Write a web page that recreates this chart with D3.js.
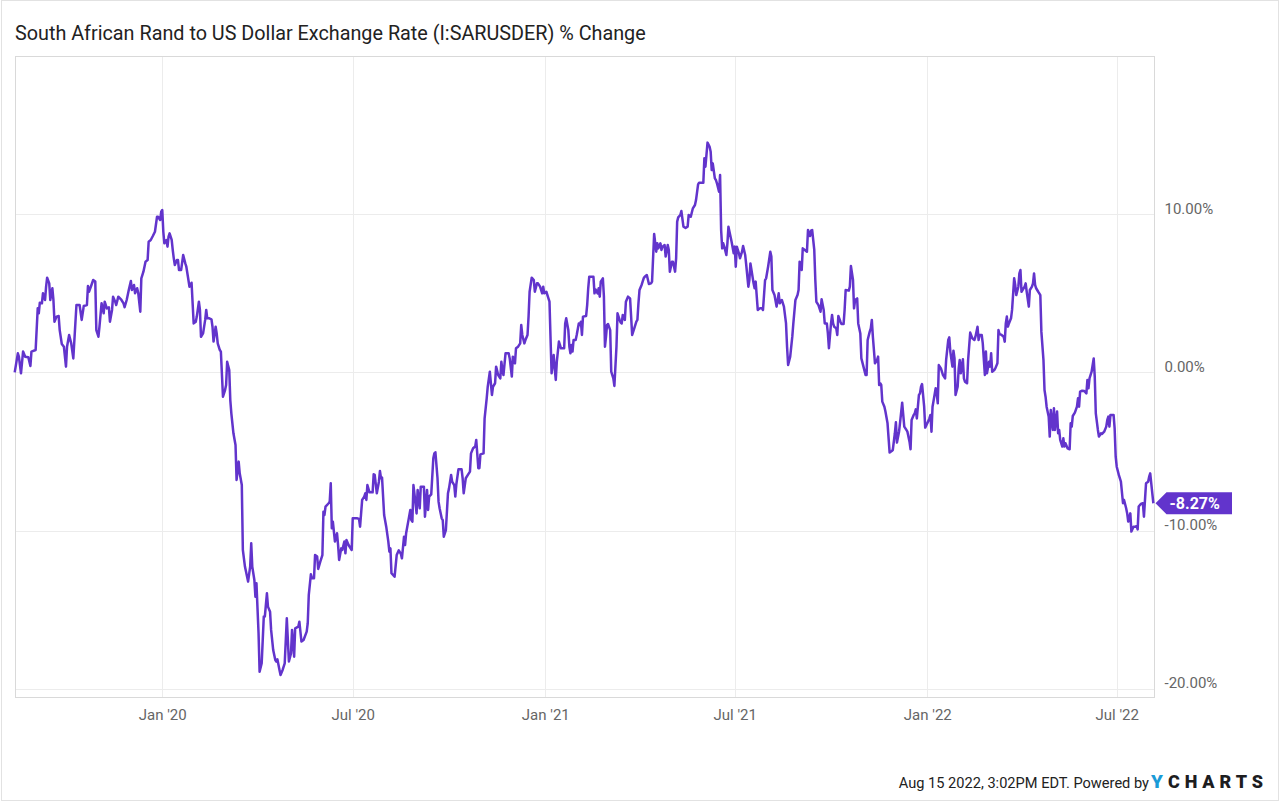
<!DOCTYPE html>
<html>
<head>
<meta charset="utf-8">
<title>South African Rand to US Dollar Exchange Rate % Change</title>
<script src="https://cdn.jsdelivr.net/npm/d3@7"></script>
<style>
  html, body { margin: 0; padding: 0; background: #fff; }
  svg { display: block; font-family: Roboto, "Open Sans", sans-serif; }
</style>
</head>
<body>
<svg id="chart" width="1280" height="802"></svg>
<script>
var title = "South African Rand to US Dollar Exchange Rate (I:SARUSDER) % Change";
var footerText = "Aug 15 2022, 3:02PM EDT. Powered by";

var dates = [
  "2019-08-13","2019-08-16","2019-08-17","2019-08-19","2019-08-21","2019-08-23","2019-08-26","2019-08-28","2019-08-29","2019-09-02",
  "2019-09-04","2019-09-05","2019-09-06","2019-09-08","2019-09-09","2019-09-11","2019-09-12","2019-09-13","2019-09-15","2019-09-16",
  "2019-09-18","2019-09-19","2019-09-20","2019-09-22","2019-09-24","2019-09-25","2019-09-27","2019-09-29","2019-10-01","2019-10-02",
  "2019-10-04","2019-10-06","2019-10-08","2019-10-11","2019-10-14","2019-10-16","2019-10-18","2019-10-21","2019-10-22","2019-10-23",
  "2019-10-25","2019-10-27","2019-10-29","2019-10-30","2019-11-01","2019-11-02","2019-11-04","2019-11-06","2019-11-07","2019-11-09",
  "2019-11-11","2019-11-12","2019-11-14","2019-11-15","2019-11-17","2019-11-18","2019-11-20","2019-11-23","2019-11-25","2019-11-26",
  "2019-11-28","2019-11-30","2019-12-02","2019-12-03","2019-12-05","2019-12-06","2019-12-08","2019-12-09","2019-12-11","2019-12-12",
  "2019-12-14","2019-12-16","2019-12-18","2019-12-19","2019-12-21","2019-12-23","2019-12-25","2019-12-27","2019-12-28","2019-12-30",
  "2019-12-31","2020-01-01","2020-01-02","2020-01-03","2020-01-05","2020-01-06","2020-01-07","2020-01-08","2020-01-10","2020-01-11",
  "2020-01-12","2020-01-13","2020-01-15","2020-01-16","2020-01-17","2020-01-19","2020-01-21","2020-01-23","2020-01-24","2020-01-26",
  "2020-01-27","2020-01-29","2020-01-31","2020-02-02","2020-02-03","2020-02-05","2020-02-06","2020-02-07","2020-02-09","2020-02-11",
  "2020-02-12","2020-02-13","2020-02-15","2020-02-17","2020-02-18","2020-02-19","2020-02-21","2020-02-22","2020-02-23","2020-02-25",
  "2020-02-26","2020-02-28","2020-03-01","2020-03-02","2020-03-03","2020-03-05","2020-03-06","2020-03-07","2020-03-09","2020-03-11",
  "2020-03-12","2020-03-14","2020-03-15","2020-03-17","2020-03-18","2020-03-20","2020-03-23","2020-03-25","2020-03-26","2020-03-27",
  "2020-03-29","2020-03-30","2020-03-31","2020-04-02","2020-04-03","2020-04-05","2020-04-07","2020-04-08","2020-04-10","2020-04-11",
  "2020-04-13","2020-04-14","2020-04-16","2020-04-18","2020-04-19","2020-04-20","2020-04-22","2020-04-23","2020-04-25","2020-04-27",
  "2020-04-29","2020-05-01","2020-05-03","2020-05-04","2020-05-06","2020-05-07","2020-05-10","2020-05-11","2020-05-13","2020-05-15",
  "2020-05-18","2020-05-19","2020-05-20","2020-05-22","2020-05-23","2020-05-25","2020-05-26","2020-05-28","2020-05-29","2020-05-31",
  "2020-06-02","2020-06-03","2020-06-04","2020-06-05","2020-06-08","2020-06-09","2020-06-10","2020-06-11","2020-06-12","2020-06-14",
  "2020-06-16","2020-06-17","2020-06-18","2020-06-20","2020-06-21","2020-06-23","2020-06-24","2020-06-25","2020-06-27","2020-06-30",
  "2020-07-01","2020-07-05","2020-07-07","2020-07-08","2020-07-10","2020-07-12","2020-07-13","2020-07-14","2020-07-15","2020-07-17",
  "2020-07-20","2020-07-21","2020-07-22","2020-07-24","2020-07-26","2020-07-27","2020-07-28","2020-07-29","2020-07-31","2020-08-02",
  "2020-08-04","2020-08-05","2020-08-06","2020-08-07","2020-08-10","2020-08-12","2020-08-14","2020-08-16","2020-08-17","2020-08-19",
  "2020-08-20","2020-08-21","2020-08-23","2020-08-25","2020-08-26","2020-08-27","2020-08-28","2020-08-30","2020-08-31","2020-09-01",
  "2020-09-03","2020-09-04","2020-09-05","2020-09-07","2020-09-08","2020-09-10","2020-09-11","2020-09-12","2020-09-14","2020-09-16",
  "2020-09-17","2020-09-18","2020-09-20","2020-09-21","2020-09-22","2020-09-24","2020-09-25","2020-09-26","2020-09-28","2020-09-30",
  "2020-10-01","2020-10-03","2020-10-04","2020-10-06","2020-10-07","2020-10-08","2020-10-10","2020-10-13","2020-10-14","2020-10-15",
  "2020-10-17","2020-10-19","2020-10-21","2020-10-22","2020-10-24","2020-10-26","2020-10-27","2020-10-29","2020-10-30","2020-10-31",
  "2020-11-03","2020-11-04","2020-11-06","2020-11-07","2020-11-09","2020-11-11","2020-11-12","2020-11-14","2020-11-15","2020-11-17",
  "2020-11-19","2020-11-20","2020-11-21","2020-11-22","2020-11-24","2020-11-27","2020-11-28","2020-11-30","2020-12-01","2020-12-03",
  "2020-12-04","2020-12-06","2020-12-08","2020-12-09","2020-12-10","2020-12-12","2020-12-13","2020-12-15","2020-12-16","2020-12-17",
  "2020-12-19","2020-12-21","2020-12-22","2020-12-24","2020-12-25","2020-12-27","2020-12-29","2020-12-30","2020-12-31","2021-01-02",
  "2021-01-04","2021-01-05","2021-01-06","2021-01-07","2021-01-09","2021-01-10","2021-01-11","2021-01-12","2021-01-14","2021-01-16",
  "2021-01-19","2021-01-20","2021-01-21","2021-01-23","2021-01-24","2021-01-25","2021-01-26","2021-01-27","2021-01-28","2021-01-30",
  "2021-01-31","2021-02-02","2021-02-03","2021-02-04","2021-02-05","2021-02-06","2021-02-09","2021-02-10","2021-02-11","2021-02-12",
  "2021-02-14","2021-02-16","2021-02-17","2021-02-18","2021-02-20","2021-02-21","2021-02-22","2021-02-23","2021-02-25","2021-02-26",
  "2021-02-27","2021-02-28","2021-03-01","2021-03-02","2021-03-04","2021-03-05","2021-03-07","2021-03-08","2021-03-10","2021-03-11",
  "2021-03-13","2021-03-14","2021-03-15","2021-03-16","2021-03-18","2021-03-19","2021-03-21","2021-03-23","2021-03-24","2021-03-25",
  "2021-03-27","2021-03-29","2021-03-30","2021-03-31","2021-04-01","2021-04-03","2021-04-05","2021-04-06","2021-04-08","2021-04-10",
  "2021-04-12","2021-04-13","2021-04-15","2021-04-17","2021-04-18","2021-04-19","2021-04-21","2021-04-22","2021-04-23","2021-04-25",
  "2021-04-26","2021-04-28","2021-04-29","2021-04-30","2021-05-02","2021-05-03","2021-05-05","2021-05-06","2021-05-07","2021-05-08",
  "2021-05-10","2021-05-11","2021-05-13","2021-05-15","2021-05-17","2021-05-18","2021-05-20","2021-05-22","2021-05-24","2021-05-25",
  "2021-05-27","2021-05-28","2021-05-30","2021-06-01","2021-06-02","2021-06-03","2021-06-05","2021-06-07","2021-06-08","2021-06-09",
  "2021-06-10","2021-06-12","2021-06-13","2021-06-14","2021-06-16","2021-06-17","2021-06-18","2021-06-19","2021-06-20","2021-06-21",
  "2021-06-23","2021-06-24","2021-06-25","2021-06-26","2021-06-28","2021-06-30","2021-07-01","2021-07-02","2021-07-03","2021-07-05",
  "2021-07-06","2021-07-08","2021-07-09","2021-07-11","2021-07-12","2021-07-14","2021-07-15","2021-07-16","2021-07-17","2021-07-19",
  "2021-07-20","2021-07-21","2021-07-23","2021-07-25","2021-07-27","2021-07-28","2021-07-30","2021-07-31","2021-08-02","2021-08-04",
  "2021-08-05","2021-08-06","2021-08-08","2021-08-10","2021-08-12","2021-08-13","2021-08-15","2021-08-17","2021-08-19","2021-08-20",
  "2021-08-21","2021-08-23","2021-08-25","2021-08-26","2021-08-28","2021-08-30","2021-08-31","2021-09-01","2021-09-03","2021-09-04",
  "2021-09-06","2021-09-08","2021-09-09","2021-09-11","2021-09-12","2021-09-13","2021-09-15","2021-09-16","2021-09-17","2021-09-19",
  "2021-09-21","2021-09-22","2021-09-24","2021-09-25","2021-09-27","2021-09-28","2021-09-29","2021-10-01","2021-10-02","2021-10-03",
  "2021-10-04","2021-10-06","2021-10-07","2021-10-08","2021-10-10","2021-10-11","2021-10-13","2021-10-14","2021-10-15","2021-10-18",
  "2021-10-19","2021-10-20","2021-10-22","2021-10-23","2021-10-24","2021-10-26","2021-10-27","2021-10-29","2021-10-30","2021-11-01",
  "2021-11-03","2021-11-04","2021-11-05","2021-11-07","2021-11-08","2021-11-09","2021-11-10","2021-11-12","2021-11-14","2021-11-15",
  "2021-11-16","2021-11-17","2021-11-18","2021-11-19","2021-11-21","2021-11-22","2021-11-24","2021-11-26","2021-11-28","2021-11-29",
  "2021-12-01","2021-12-02","2021-12-03","2021-12-05","2021-12-06","2021-12-08","2021-12-10","2021-12-12","2021-12-13","2021-12-15",
  "2021-12-16","2021-12-17","2021-12-19","2021-12-20","2021-12-21","2021-12-22","2021-12-24","2021-12-25","2021-12-26","2021-12-27",
  "2021-12-29","2021-12-30","2022-01-01","2022-01-03","2022-01-04","2022-01-05","2022-01-06","2022-01-07","2022-01-09","2022-01-10",
  "2022-01-11","2022-01-12","2022-01-14","2022-01-16","2022-01-18","2022-01-19","2022-01-21","2022-01-22","2022-01-23","2022-01-25",
  "2022-01-26","2022-01-27","2022-01-28","2022-01-30","2022-01-31","2022-02-01","2022-02-02","2022-02-04","2022-02-05","2022-02-06",
  "2022-02-08","2022-02-09","2022-02-11","2022-02-13","2022-02-15","2022-02-16","2022-02-18","2022-02-19","2022-02-20","2022-02-22",
  "2022-02-23","2022-02-25","2022-02-26","2022-02-27","2022-03-01","2022-03-02","2022-03-03","2022-03-04","2022-03-06","2022-03-07",
  "2022-03-09","2022-03-10","2022-03-11","2022-03-13","2022-03-15","2022-03-16","2022-03-17","2022-03-18","2022-03-19","2022-03-20",
  "2022-03-22","2022-03-23","2022-03-25","2022-03-26","2022-03-27","2022-03-29","2022-03-30","2022-03-31","2022-04-01","2022-04-03",
  "2022-04-04","2022-04-05","2022-04-06","2022-04-08","2022-04-09","2022-04-11","2022-04-12","2022-04-13","2022-04-14","2022-04-15",
  "2022-04-17","2022-04-18","2022-04-19","2022-04-20","2022-04-22","2022-04-23","2022-04-24","2022-04-25","2022-04-27","2022-04-28",
  "2022-04-29","2022-05-01","2022-05-02","2022-05-03","2022-05-05","2022-05-06","2022-05-07","2022-05-08","2022-05-10","2022-05-11",
  "2022-05-12","2022-05-13","2022-05-15","2022-05-17","2022-05-18","2022-05-19","2022-05-20","2022-05-22","2022-05-24","2022-05-25",
  "2022-05-26","2022-05-27","2022-05-29","2022-05-31","2022-06-02","2022-06-03","2022-06-04","2022-06-05","2022-06-07","2022-06-09",
  "2022-06-10","2022-06-11","2022-06-13","2022-06-14","2022-06-16","2022-06-17","2022-06-19","2022-06-21","2022-06-22","2022-06-23",
  "2022-06-24","2022-06-25","2022-06-28","2022-06-29","2022-06-30","2022-07-01","2022-07-03","2022-07-05","2022-07-07","2022-07-08",
  "2022-07-10","2022-07-11","2022-07-12","2022-07-14","2022-07-15","2022-07-17","2022-07-19","2022-07-20","2022-07-21","2022-07-22",
  "2022-07-24","2022-07-26","2022-07-27","2022-07-28","2022-07-29","2022-07-31","2022-08-01","2022-08-02","2022-08-04","2022-08-05"
];

var pctChange = [
  0, 1.20, 0.99, -0.06, 1.31, 0.99, 0.95, 0.40, 1.31, 1.41,
  4.04, 3.73, 4.40, 4.36, 4.99, 4.57, 5.41, 5.98, 5.62, 4.57,
  5.31, 4.57, 3.20, 3.52, 3.56, 2.67, 1.79, 1.62, 0.36, 1.62,
  2.36, 1.83, 0.88, 4.25, 4.25, 3.31, 4.19, 4.25, 5.45, 5.09,
  5.45, 5.83, 5.73, 2.67, 2.25, 2.88, 4.36, 3.73, 4.46, 4.04,
  4.11, 3.20, 3.94, 4.78, 4.46, 4.25, 4.78, 4.57, 4.36, 4.11,
  4.57, 5.20, 5.77, 5.20, 5.52, 4.99, 5.31, 5.03, 3.83, 5.94,
  6.36, 6.99, 7.09, 8.25, 8.36, 8.61, 8.88, 9.83, 9.83, 9.62,
  10.15, 10.25, 8.88, 8.15, 8.36, 7.94, 8.57, 8.78, 8.36, 7.73,
  7.20, 6.78, 7.09, 7.09, 6.46, 6.46, 7.41, 6.88, 6.67, 5.83,
  5.41, 5.66, 3.09, 3.20, 3.52, 4.46, 3.94, 2.25, 2.46, 3.31,
  3.94, 3.41, 3.41, 3.35, 2.88, 1.94, 2.88, 2.46, 1.83, 1.41,
  1.31, -1.54, -1.12, -0.80, 0.67, 0.15, -1.75, -2.59, -3.85, -4.59,
  -6.80, -5.64, -6.38, -7.12, -11.22, -12.27, -13.22, -12.27, -10.80, -12.27,
  -13.12, -14.17, -13.33, -16.48, -18.91, -18.38, -15.43, -15.43, -13.96, -14.80,
  -15.12, -16.27, -17.54, -18.17, -18.27, -18.13, -18.80, -19.12, -18.80, -18.38,
  -15.54, -18.27, -17.75, -16.27, -17.96, -16.17, -16.06, -15.75, -17.01, -16.91,
  -16.38, -15.85, -14.06, -12.76, -13.01, -13.01, -11.54, -11.64, -12.42, -11.96,
  -11.54, -8.80, -9.01, -8.48, -8.27, -8.17, -7.01, -9.85, -9.43, -10.69,
  -10.17, -10.91, -11.85, -11.12, -11.22, -10.69, -11.43, -10.59, -10.91, -11.22,
  -9.22, -9.22, -9.26, -9.75, -8.06, -7.85, -7.64, -8.06, -7.12, -7.58,
  -7.58, -6.44, -6.48, -7.64, -6.91, -6.23, -6.69, -6.65, -9.01, -9.75,
  -10.69, -11.33, -11.12, -12.69, -12.91, -11.54, -11.24, -11.47, -11.75, -10.38,
  -10.91, -10.17, -9.43, -8.69, -9.33, -9.43, -7.12, -8.27, -8.91, -7.43,
  -8.59, -7.22, -7.22, -7.22, -9.12, -7.43, -8.69, -7.85, -7.71, -5.43,
  -5.12, -5.05, -6.69, -8.17, -8.59, -9.22, -9.33, -10.38, -9.96, -7.64,
  -7.33, -6.48, -6.91, -7.12, -7.85, -7.07, -6.13, -6.13, -6.69, -7.64,
  -6.69, -6.48, -6.27, -5.12, -4.80, -4.69, -4.27, -6.06, -6.06, -5.18,
  -5.12, -2.91, -1.64, -0.91, 0.04, -1.43, -0.91, -0.69, 0.36, -0.17,
  -0.38, 0.67, 0.15, -0.17, 1.20, 1.20, 0.88, -0.27, 0.99, 0.57,
  1.52, 1.62, 1.83, 2.99, 2.36, 1.83, 2.04, 2.36, 3.52, 5.09,
  5.98, 5.83, 5.09, 5.62, 5.62, 5.41, 4.99, 5.41, 4.99, 5.09,
  4.67, 4.46, 2.15, -0.06, 1.09, 0.25, -0.48, 0.67, 1.94, 1.52,
  1.52, 3.09, 3.41, 2.67, 1.62, 1.20, 1.73, 1.31, 2.04, 2.04,
  2.36, 3.09, 2.99, 3.20, 2.36, 3.52, 3.56, 4.25, 5.31, 6.04,
  6.04, 6.04, 4.99, 5.24, 4.99, 5.31, 4.78, 5.73, 5.94, 4.78,
  1.62, 2.25, 2.99, 3.05, 2.67, 0.04, -0.38, -0.86, 1.62, 3.73,
  3.31, 3.14, 3.09, 3.62, 3.31, 4.46, 4.78, 4.67, 3.52, 2.36,
  2.78, 3.20, 3.31, 4.36, 5.20, 5.52, 5.94, 6.04, 6.15, 5.58,
  5.62, 5.73, 8.74, 7.62, 8.15, 7.83, 8.15, 7.73, 7.94, 8.04,
  7.31, 8.04, 7.73, 6.36, 6.99, 6.99, 6.36, 7.20, 9.52, 9.79,
  9.94, 10.19, 9.20, 9.12, 9.20, 9.94, 9.83, 10.36, 10.57, 10.88,
  11.87, 11.98, 11.98, 11.98, 13.52, 12.99, 14.51, 14.25, 13.94, 12.78,
  13.20, 12.25, 12.15, 11.94, 11.41, 12.46, 8.99, 7.83, 8.15, 7.94,
  7.41, 8.15, 9.20, 8.88, 8.25, 7.52, 7.94, 6.67, 7.94, 7.52,
  7.20, 7.62, 7.98, 7.41, 6.78, 5.41, 5.83, 6.88, 6.46, 5.62,
  5.31, 5.73, 3.94, 4.04, 4.04, 3.94, 5.83, 5.94, 6.72, 7.62,
  7.31, 5.20, 4.88, 4.15, 4.99, 4.36, 4.57, 4.15, 3.09, 1.62,
  0.46, 0.99, 2.25, 3.09, 4.57, 4.88, 5.20, 6.99, 6.46, 7.83,
  7.73, 7.62, 8.99, 8.61, 8.95, 8.99, 7.73, 5.83, 4.46, 4.25,
  3.83, 4.61, 3.94, 3.09, 3.09, 2.46, 1.52, 3.09, 3.62, 3.09,
  2.88, 2.78, 2.36, 3.56, 3.20, 3.05, 3.05, 3.94, 5.20, 5.16,
  5.41, 6.72, 5.83, 4.04, 4.57, 4.67, 3.09, 2.46, 0.88, 0.36,
  -0.17, -0.17, 2.04, 2.57, 2.78, 3.31, 2.25, 0.57, 0.78, 0.99,
  -0.80, -0.69, -0.80, -1.85, -2.17, -2.48, -3.22, -5.07, -4.97, -4.91,
  -3.85, -3.16, -4.44, -3.75, -3.16, -1.92, -3.43, -3.64, -3.75, -4.38,
  -4.86, -3.01, -2.69, -2.59, -2.34, -2.91, -1.43, -1.33, -0.91, -0.74,
  -2.17, -3.49, -3.22, -2.91, -2.69, -3.75, -2.17, -1.79, -1.01, -1.33,
  -1.96, 0.46, 0.25, -0.17, -0.38, 0.78, 2.04, 2.21, 1.31, 0.36,
  1.37, 0.88, -1.43, -0.91, 0.25, 0.78, -0.06, 0.82, -0.38, -0.59,
  -0.69, 0.78, 2.51, 2.15, 2.04, 2.25, 2.88, 2.04, 2.36, 2.36,
  1.83, -0.17, 1.31, -0.06, 0.67, 0.36, 1.20, 0.04, 0.15, 0.25,
  0.57, 2.67, 2.42, 2.36, 2.25, 1.94, 3.09, 3.52, 2.88, 3.09,
  3.41, 3.94, 5.94, 5.52, 4.88, 5.41, 6.25, 6.46, 5.09, 5.31,
  5.41, 5.62, 5.09, 4.15, 5.20, 5.41, 5.62, 6.25, 5.52, 5.31,
  5.09, 4.99, 4.88, 2.57, 0.78, -1.12, -1.54, -2.17, -2.80, -4.06,
  -2.38, -3.64, -2.27, -3.64, -2.48, -3.85, -3.64, -4.27, -4.69, -4.17,
  -4.69, -4.48, -4.80, -4.86, -3.22, -3.43, -2.76, -2.55, -2.17, -1.64,
  -2.17, -1.22, -1.16, -1.18, -1.33, -0.48, -1.01, -0.38, 0.04, 0.88,
  -0.27, -2.59, -3.64, -4.06, -3.85, -3.89, -3.75, -3.43, -3.01, -2.80,
  -3.43, -2.69, -2.69, -3.54, -5.33, -5.96, -6.48, -6.91, -8.27, -8.06,
  -8.59, -8.91, -9.43, -8.91, -10.06, -9.75, -9.75, -9.71, -9.92, -8.48,
  -8.32, -8.27, -9.12, -8.06, -7.01, -6.91, -6.59, -6.38, -7.64, -8.27
];

var xTickDates = ["2020-01-01", "2020-07-01", "2021-01-01", "2021-07-01", "2022-01-01", "2022-07-01"];
var xTickLabels = ["Jan '20", "Jul '20", "Jan '21", "Jul '21", "Jan '22", "Jul '22"];
var yTicks = [-20, -10, 0, 10];
var xDomain = ["2019-08-13", "2022-08-06"];
var yDomain = [-20.54, 19.95];

var lineColor = "#6234cc";

var svg = d3.select("#chart");
var frame = {left: 15.5, top: 56.5, right: 1154.5, bottom: 697.5};

var parseDate = d3.utcParse("%Y-%m-%d");
var data = dates.map(function (d, i) {
  return {date: parseDate(d), value: pctChange[i]};
});

var x = d3.scaleUtc()
    .domain(xDomain.map(parseDate))
    .range([14.7, 1154.4]);

var y = d3.scaleLinear()
    .domain(yDomain)
    .range([frame.bottom, frame.top]);

function pct(v) { return v.toFixed(2) + "%"; }
function crisp(v) { return Math.round(v) + 0.5; }

// outer border of the card
svg.append("rect")
    .attr("x", 1.5).attr("y", 0.5)
    .attr("width", 1277).attr("height", 800)
    .attr("fill", "#fff")
    .attr("stroke", "#e2e2e2");

svg.append("text")
    .attr("x", 15).attr("y", 40)
    .attr("font-size", 19.8)
    .attr("fill", "#222")
    .text(title);

// gridlines
var grid = svg.append("g");
grid.selectAll(".hgrid").data(yTicks).enter().append("line")
    .attr("class", "hgrid")
    .attr("x1", frame.left).attr("x2", frame.right)
    .attr("y1", function (d) { return crisp(y(d)); })
    .attr("y2", function (d) { return crisp(y(d)); })
    .attr("stroke", "#ececec");

grid.selectAll(".vgrid").data(xTickDates).enter().append("line")
    .attr("class", "vgrid")
    .attr("x1", function (d) { return crisp(x(parseDate(d))); })
    .attr("x2", function (d) { return crisp(x(parseDate(d))); })
    .attr("y1", frame.top).attr("y2", frame.bottom)
    .attr("stroke", "#ececec");

svg.append("rect")
    .attr("x", frame.left).attr("y", frame.top)
    .attr("width", frame.right - frame.left)
    .attr("height", frame.bottom - frame.top)
    .attr("fill", "none")
    .attr("stroke", "#d9d9d9");

// axes
var xAxis = svg.append("g")
    .attr("transform", "translate(0," + frame.bottom + ")")
    .call(d3.axisBottom(x)
      .tickValues(xTickDates.map(parseDate))
      .tickFormat(function (d, i) { return xTickLabels[i]; })
      .tickSize(0)
      .tickPadding(12));
xAxis.select(".domain").remove();
xAxis.attr("font-family", null).attr("font-size", 15);
xAxis.selectAll("text").attr("fill", "#666");

var yAxis = svg.append("g")
    .attr("transform", "translate(" + frame.right + ",0)")
    .call(d3.axisRight(y)
      .tickValues(yTicks)
      .tickFormat(pct)
      .tickSize(0)
      .tickPadding(10));
yAxis.select(".domain").remove();
yAxis.attr("font-family", null).attr("font-size", 15);
yAxis.selectAll("text").attr("fill", "#666").attr("dy", "-1");

// the series
var line = d3.line()
    .x(function (d) { return x(d.date); })
    .y(function (d) { return y(d.value); });

svg.append("path")
    .datum(data)
    .attr("d", line)
    .attr("fill", "none")
    .attr("stroke", lineColor)
    .attr("stroke-width", 2.5)
    .attr("stroke-linejoin", "round");

// last value flag
var last = data[data.length - 1];
var ly = y(last.value), tip = frame.right + 1;
svg.append("path")
    .attr("d", "M" + tip + "," + ly +
               "L" + (tip + 11) + "," + (ly - 11) +
               "L1232," + (ly - 11) +
               "L1232," + (ly + 11) +
               "L" + (tip + 11) + "," + (ly + 11) + "Z")
    .attr("fill", lineColor);
svg.append("text")
    .attr("x", tip + 14).attr("y", ly + 6)
    .attr("font-size", 16)
    .attr("font-weight", "bold")
    .attr("fill", "#fff")
    .text(pct(last.value));

// footer
svg.append("text")
    .attr("x", 1149).attr("y", 788)
    .attr("text-anchor", "end")
    .attr("font-size", 14.6)
    .attr("fill", "#222")
    .text(footerText);
svg.append("text")
    .attr("x", 1151).attr("y", 788)
    .attr("font-size", 19)
    .attr("font-weight", 900)
    .attr("fill", "#1a9bd7")
    .text("Y");
svg.append("text")
    .attr("x", 1168).attr("y", 788)
    .attr("font-size", 18)
    .attr("font-weight", 900)
    .attr("fill", "#1d1d1f")
    .attr("textLength", 95)
    .attr("lengthAdjust", "spacing")
    .text("CHARTS");
</script>
</body>
</html>
